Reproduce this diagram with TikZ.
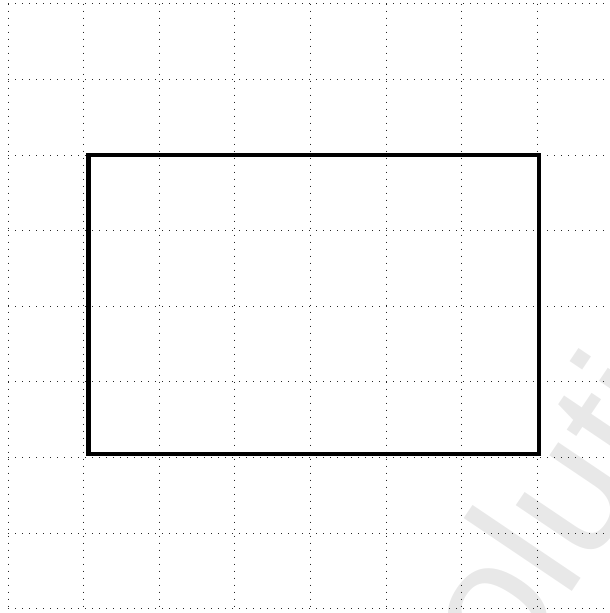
\documentclass[tikz,border=0pt]{standalone}
\usepackage{fontspec}
\newfontfamily\wmfont{Liberation Sans}
\tikzset{
  gridline/.style={line width=1pt, black!85, dash pattern=on 1pt off 6pt},
  mainrect/.style={line width=4.7pt, black},
  watermark/.style={inner sep=0pt, outer sep=0pt, anchor=base west, rotate=56, text=black!9,
    font=\wmfont\fontsize{180}{180}\selectfont}
}
\begin{document}
\begin{tikzpicture}[x=1pt,y=-1pt]
\useasboundingbox (0,0) rectangle (610,613);
\clip (0,0) rectangle (610,613);
\node[watermark] (wm) at (442.6,784.4) {Solutions};
\foreach \i in {0,...,8} {
  \draw[gridline] ({8+75.65*\i},3.7) -- ({8+75.65*\i},608.9);
  \draw[gridline] (8,{3.7+75.65*\i}) -- (613.6,{3.7+75.65*\i});
}
\draw[mainrect] (88.3,155) rectangle (539,454);
\end{tikzpicture}
\end{document}
